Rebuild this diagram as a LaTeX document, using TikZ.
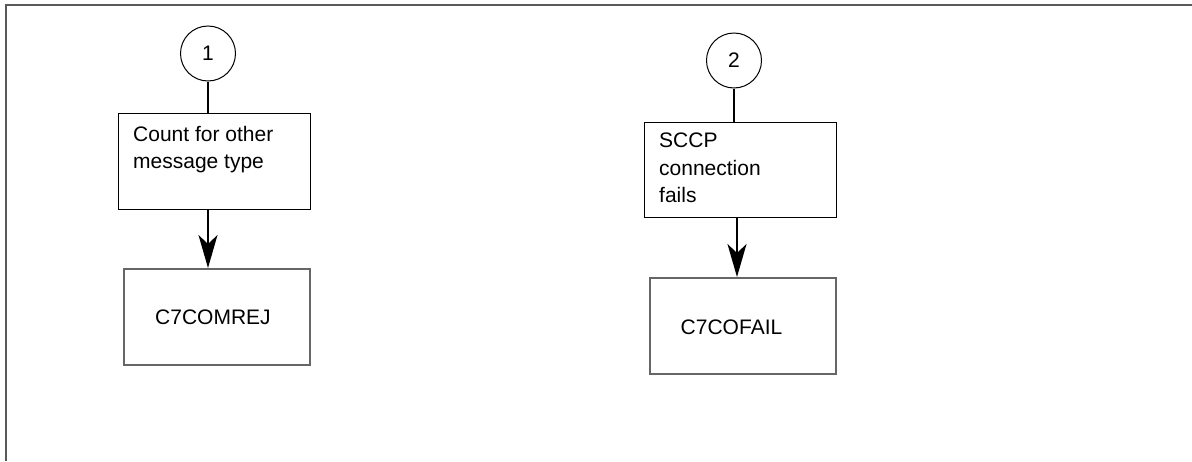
\documentclass[tikz,border=0pt]{standalone}
\usepackage{fontspec}
\setmainfont{Liberation Sans}
\usetikzlibrary{arrows.meta}
\begin{document}
\begin{tikzpicture}[x=1pt,y=-1pt,
  txt/.style={font=\fontsize{21}{27.5}\selectfont},
  circ/.style={draw,circle,line width=1pt,minimum size=55pt,inner sep=0pt,txt},
  procbox/.style={draw,line width=1.4pt,inner sep=0pt,anchor=north west},
  cntbox/.style={draw=black!60,line width=1.8pt,inner sep=0pt,anchor=north west,txt},
  link/.style={line width=2pt},
  arr/.style={line width=2pt,-{Stealth[length=33pt,width=19pt,inset=9pt]}},
  frame/.style={draw=black!65,line width=2pt}]
\useasboundingbox (0,0) rectangle (1192,461);
\draw[frame] (6,461) -- (6,5) -- (1192,5);
% flow 1
\node[circ] (c1) at (208,53.5) {1};
\node[procbox,minimum width=192pt,minimum height=96pt] (b1) at (118,113) {};
\node[txt,anchor=north west,align=left,inner sep=0pt] (t1) at (133,126) {Count for other\\message type};
\node[cntbox,minimum width=186pt,minimum height=96pt] (b2) at (123,268) {};
\node[txt] (t2) at (213,317) {C7COMREJ};
\draw[link] (c1.south) -- (c1 |- b1.north);
\draw[arr] (c1 |- b1.south) -- (c1 |- b2.north);
% flow 2
\node[circ] (c2) at (734,60.5) {2};
\node[procbox,minimum width=192pt,minimum height=95pt] (b3) at (644,122) {};
\node[txt,anchor=north west,align=left,inner sep=0pt] (t3) at (659,133) {SCCP\\connection\\fails};
\node[cntbox,minimum width=186pt,minimum height=96pt] (b4) at (649,277) {};
\node[txt] (t4) at (731.5,327) {C7COFAIL};
\draw[link] (c2.south) -- (c2 |- b3.north);
\draw[arr] (737,217) coordinate (a2) -- (a2 |- b4.north);
\end{tikzpicture}
\end{document}
